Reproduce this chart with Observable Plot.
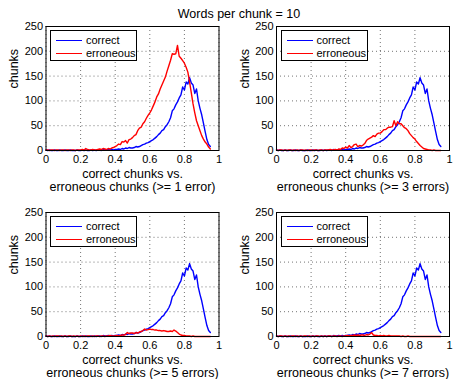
<!DOCTYPE html>
<html><head><meta charset="utf-8">
<script src="https://cdn.jsdelivr.net/npm/d3@7"></script>
<script src="https://cdn.jsdelivr.net/npm/@observablehq/plot@0.6"></script>
<style>
body{margin:0;background:#fff;font-family:"Liberation Sans",Arial,sans-serif}
#c{position:relative;width:453px;height:379px;overflow:hidden;background:#fff}
.p{position:absolute}
.t{position:absolute;font-size:12.5px;line-height:1;white-space:nowrap;transform:translateX(-50%);color:#000}
.lg{position:absolute;box-sizing:border-box;width:87px;height:31px;border:1.2px solid #000;background:#fff;font-size:11px;padding-top:3px}
.row{height:13px;line-height:13px;display:flex;align-items:center;white-space:nowrap}
.sw{display:inline-block;width:26px;height:0;margin-left:5px;margin-right:4px}
</style></head>
<body><div id="c"></div>
<script>
const bins = [0.00,0.01,0.02,0.03,0.04,0.05,0.06,0.07,0.08,0.09,
0.10,0.11,0.12,0.13,0.14,0.15,0.16,0.17,0.18,0.19,
0.20,0.21,0.22,0.23,0.24,0.25,0.26,0.27,0.28,0.29,
0.30,0.31,0.32,0.33,0.34,0.35,0.36,0.37,0.38,0.39,
0.40,0.41,0.42,0.43,0.44,0.45,0.46,0.47,0.48,0.49,
0.50,0.51,0.52,0.53,0.54,0.55,0.56,0.57,0.58,0.59,
0.60,0.61,0.62,0.63,0.64,0.65,0.66,0.67,0.68,0.69,
0.70,0.71,0.72,0.73,0.74,0.75,0.76,0.77,0.78,0.79,
0.80,0.81,0.82,0.83,0.84,0.85,0.86,0.87,0.88,0.89,
0.90,0.91,0.92,0.93,0.94,0.95];

const correct = [1,0,1,0,0,1,0,0,1,0,
0,1,0,0,1,0,0,0,1,0,
0,1,0,1,0,0,1,0,1,0,
1,1,0,2,1,1,2,1,2,1,
2,2,3,2,4,3,5,4,6,5,
5,6,8,7,8,10,12,13,15,16,
18,20,22,25,28,32,35,40,42,48,
52,58,66,80,84,92,98,106,112,128,
122,138,134,147,136,132,115,124,100,85,
72,55,38,22,12,8];

const erroneous1 = [1,1,0,1,1,0,1,1,0,1,
1,0,1,1,0,1,1,0,1,1,
1,2,1,4,2,1,1,2,1,1,
2,3,2,4,3,2,4,3,5,6,
8,10,13,12,18,17,20,15,22,23,
26,30,32,40,45,47,54,58,65,71,
76,82,90,98,108,114,124,132,140,148,
160,171,182,195,194,195,212,190,186,181,
176,168,158,138,116,94,76,60,50,40,
30,23,17,13,7,3];

const erroneous3 = [1,0,1,1,0,1,0,1,1,0,
1,0,1,0,1,1,0,1,0,1,
1,0,1,1,0,1,1,0,1,1,
1,2,1,1,2,1,3,2,5,4,
7,5,10,6,8,12,13,8,10,9,
11,14,20,23,25,27,30,28,33,35,
35,38,42,42,45,47,47,48,60,50,
58,54,54,50,46,44,40,34,30,26,
23,18,14,10,7,4,3,2,1,1,
0,1,0,0,0,0];

const erroneous5 = [1,0,1,0,1,0,1,1,0,1,
0,1,0,1,1,0,1,0,1,0,
1,0,1,0,1,1,0,1,0,1,
1,0,1,1,0,1,1,2,1,1,
1,2,1,2,3,3,4,8,6,7,
7,6,8,7,9,10,12,15,13,14,
15,14,14,13,13,12,12,11,12,11,
10,10,11,10,13,11,8,5,3,2,
2,1,1,1,0,1,0,0,0,0,
0,0,0,0,0,0];

const erroneous7 = [1,0,1,1,0,1,0,1,0,1,
1,0,1,0,1,0,1,1,0,1,
0,1,0,1,1,0,1,0,1,0,
1,1,0,1,1,0,1,1,0,1,
1,2,1,2,2,3,2,3,2,3,
3,2,4,3,5,8,3,2,2,1,
2,1,2,1,1,2,1,1,1,1,
1,1,0,1,0,0,1,0,0,0,
0,0,0,0,0,0,0,0,0,0,
0,0,0,0,0,0];

const xTicks = [0, 0.2, 0.4, 0.6, 0.8, 1];
const yTicks = [0, 50, 100, 150, 200, 250];
const seriesNames = ["correct", "erroneous"];
const seriesColors = ["#0000ff", "#ff0000"];
const titleText = "Words per chunk = 10";
const yLabel = "chunks";
const xLabelTop = "correct chunks vs.";
const xLabelBottoms = ["erroneous chunks (>= 1 error)", "erroneous chunks (>= 3 errors)",
  "erroneous chunks (>= 5 errors)", "erroneous chunks (>= 7 errors)"];
const erroneousSets = [erroneous1, erroneous3, erroneous5, erroneous7];

const layouts = [
  {left: 0,   top: 0,   width: 226, height: 195, ml: 45.5, mr: 7.5, mt: 26, mb: 45},
  {left: 230, top: 0,   width: 223, height: 195, ml: 46,   mr: 4,   mt: 26, mb: 45},
  {left: 0,   top: 186, width: 226, height: 193, ml: 45.5, mr: 7.5, mt: 26, mb: 43},
  {left: 230, top: 186, width: 223, height: 193, ml: 46,   mr: 4,   mt: 26, mb: 43}
];

const container = document.getElementById("c");

erroneousSets.forEach((err, k) => {
  const L = layouts[k];
  const corrData = bins.map((b, i) => ({x: b, y: correct[i]}));
  const errData = bins.map((b, i) => ({x: b, y: err[i]}));
  const chart = Plot.plot({
    width: L.width, height: L.height,
    marginLeft: L.ml, marginRight: L.mr, marginTop: L.mt, marginBottom: L.mb,
    style: {background: "transparent", overflow: "visible", fontSize: "11px",
            fontFamily: "'Liberation Sans', Arial, sans-serif", color: "#000"},
    x: {domain: [0, 1]},
    y: {domain: [0, 250]},
    marks: [
      Plot.gridX(xTicks, {stroke: "#000", strokeOpacity: 0.55, strokeDasharray: "1,3"}),
      Plot.gridY(yTicks, {stroke: "#000", strokeOpacity: 0.55, strokeDasharray: "1,3"}),
      Plot.axisX({ticks: xTicks, tickSize: 0, tickPadding: 5, label: null, tickFormat: d => String(d)}),
      Plot.axisY({ticks: yTicks, tickSize: 0, tickPadding: 3, label: null}),
      Plot.line(corrData, {x: "x", y: "y", stroke: seriesColors[0], strokeWidth: 1.4}),
      Plot.line(errData, {x: "x", y: "y", stroke: seriesColors[1], strokeWidth: 1.4}),
      Plot.frame({stroke: "#000", strokeWidth: 1}),
      Plot.text([xLabelTop + "\n" + xLabelBottoms[k]], {text: d => d, frameAnchor: "bottom",
        lineAnchor: "top", dy: 17.6, fontSize: 12.5, lineHeight: 1.08, fill: "#000"}),
      Plot.text([yLabel], {text: d => d, frameAnchor: "left", rotate: -90, dx: -32,
        fontSize: 12.5, fill: "#000"})
    ]
  });
  chart.classList.add("p");
  chart.style.left = L.left + "px";
  chart.style.top = L.top + "px";
  container.appendChild(chart);

  const lg = document.createElement("div");
  lg.className = "lg";
  lg.style.left = (L.left + L.ml + 4.5) + "px";
  lg.style.top = (L.top + L.mt + 3.5) + "px";
  seriesNames.forEach((name, j) => {
    const row = document.createElement("div");
    row.className = "row";
    const sw = document.createElement("span");
    sw.className = "sw";
    sw.style.borderTop = "1.4px solid " + seriesColors[j];
    row.appendChild(sw);
    row.appendChild(document.createTextNode(name));
    lg.appendChild(row);
  });
  container.appendChild(lg);
});

const t = document.createElement("div");
t.className = "t";
t.style.left = "239px";
t.style.top = "8px";
t.textContent = titleText;
container.appendChild(t);
</script>
</body></html>
